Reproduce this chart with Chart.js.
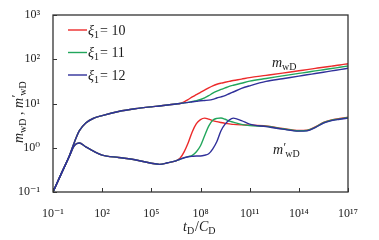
<html>
<head>
  <meta charset="utf-8" />
  <script src="https://cdn.jsdelivr.net/npm/chart.js@4.4.0/dist/chart.umd.min.js"></script>
  <style>
    html, body {
      margin: 0;
      padding: 0;
      background: #fff;
    }

    .chart-wrapper {
      width: 379px;
      height: 240px;
    }
  </style>
</head>

<body>
  <div class="chart-wrapper">
    <canvas id="mwdChart" width="379" height="240"></canvas>
  </div>
  <script>
    // x values, tD/CD
    let tdCd = [
      0.1, 0.316, 1, 2, 4, 10, 31.6, 100, 1e3, 1e4,
      1e5, 3.16e5, 1e6, 3.16e6, 5.62e6, 1e7, 1.78e7, 3.16e7, 5.62e7, 1e8,
      1.78e8, 3.16e8, 5.62e8, 1e9, 1.78e9, 3.16e9, 5.62e9, 1e10, 3.16e10, 1e11,
      1e12, 1e13, 1e14, 3.16e14, 1e15, 3.16e15, 1e16, 3.16e16, 1e17,
    ];

    // m_wD (upper curves)
    let mwdXi10 = [
      0.1, 0.257, 0.66, 1.32, 2.40, 3.63, 4.68, 5.33, 6.58, 7.59,
      8.41, 8.77, 9.23, 9.77, 10.0, 10.9, 12.3, 14.1, 15.8, 17.8,
      20.0, 22.6, 25.1, 27.2, 28.8, 30.2, 31.6, 33.0, 35.5, 38.4,
      43.1, 48.5, 55.0, 58.3, 62.1, 66.1, 70.0, 74.1, 79.1,
    ];
    let mwdXi11 = [
      0.1, 0.257, 0.66, 1.32, 2.40, 3.63, 4.68, 5.33, 6.58, 7.59,
      8.41, 8.77, 9.23, 9.77, 10.0, 10.35, 10.6, 11.1, 11.6, 12.3,
      13.4, 15.0, 17.1, 19.0, 20.8, 22.5, 24.3, 25.8, 28.7, 32.0,
      36.8, 42.0, 47.9, 50.9, 54.5, 58.0, 61.7, 66.1, 70.5,
    ];
    let mwdXi12 = [
      0.1, 0.257, 0.66, 1.32, 2.40, 3.63, 4.68, 5.33, 6.58, 7.59,
      8.41, 8.77, 9.23, 9.77, 10.0, 10.35, 10.6, 10.96, 11.2, 11.5,
      11.7, 11.9, 12.4, 13.3, 14.1, 15.1, 16.6, 18.2, 21.9, 25.1,
      31.6, 36.3, 41.5, 44.5, 47.5, 50.8, 54.5, 58.2, 62.4,
    ];

    // m'_wD (lower curves)
    let dmwdXi10 = [
      0.1, 0.257, 0.645, 1.12, 1.28, 1.05, 0.824, 0.682, 0.603, 0.537,
      0.447, 0.422, 0.457, 0.507, 0.577, 0.81, 1.30, 2.31, 3.51, 4.33,
      4.68, 4.45, 4.11, 3.89, 3.72, 3.56, 3.47, 3.37, 3.28, 3.24,
      3.09, 2.72, 2.45, 2.50, 2.95, 3.73, 4.27, 4.57, 4.90,
    ];
    let dmwdXi11 = [
      0.1, 0.257, 0.645, 1.12, 1.28, 1.05, 0.824, 0.682, 0.603, 0.537,
      0.447, 0.422, 0.457, 0.507, 0.55, 0.593, 0.631, 0.676, 0.813, 1.11,
      1.87, 3.08, 4.17, 4.61, 4.71, 4.40, 4.00, 3.80, 3.37, 3.16,
      3.05, 2.68, 2.42, 2.45, 2.90, 3.67, 4.19, 4.49, 4.79,
    ];
    let dmwdXi12 = [
      0.1, 0.257, 0.645, 1.12, 1.28, 1.05, 0.824, 0.682, 0.603, 0.537,
      0.447, 0.422, 0.457, 0.507, 0.55, 0.593, 0.624, 0.641, 0.652, 0.652,
      0.676, 0.731, 0.948, 1.39, 2.43, 3.42, 4.22, 4.68, 4.11, 3.42,
      3.00, 2.63, 2.37, 2.41, 2.85, 3.61, 4.11, 4.40, 4.68,
    ];

    let xiLabels = ["10", "11", "12"];
    let xTickValues = [1e-1, 1e2, 1e5, 1e8, 1e11, 1e14, 1e17];
    let yTickValues = [1e-1, 1e0, 1e1, 1e2, 1e3];

    // colors and fonts
    let seriesColors = ["#ec2a2a", "#22a65c", "#30309a"];
    let frameColor = "#333333";
    let serif = '"Liberation Serif", "DejaVu Serif", serif';

    let superDigits = {
      "-": "\u207B", "0": "\u2070", "1": "\u00B9", "2": "\u00B2", "3": "\u00B3",
      "4": "\u2074", "5": "\u2075", "6": "\u2076", "7": "\u2077", "8": "\u2078", "9": "\u2079",
    };

    function powLabel(value) {
      let e = String(Math.round(Math.log10(value)));
      return "10" + e.split("").map((c) => superDigits[c]).join("");
    }

    function toPoints(ys) {
      return tdCd.map((x, i) => ({ x: x, y: ys[i] }));
    }

    // draws a row of text pieces with their own font and offset
    function drawParts(ctx, x, y, parts) {
      parts.forEach((p) => {
        ctx.font = p.font;
        ctx.fillText(p.text, x, y + (p.dy || 0));
        x += ctx.measureText(p.text).width + (p.gap || 0);
      });
    }

    let fItalic = "italic 14px " + serif;
    let fNormal = "14px " + serif;
    let fSub = "10px " + serif;

    // frame, inward ticks, legend and labels
    let decorPlugin = {
      id: "decor",
      afterDatasetsDraw(chart) {
        let ctx = chart.ctx;
        let area = chart.chartArea;
        let xs = chart.scales.x;
        let ys = chart.scales.y;
        ctx.save();

        ctx.strokeStyle = frameColor;
        ctx.lineWidth = 1.3;
        ctx.strokeRect(area.left, area.top, area.right - area.left, area.bottom - area.top);

        ctx.lineWidth = 1;
        ctx.beginPath();
        xTickValues.forEach((v) => {
          let px = Math.round(xs.getPixelForValue(v)) + 0.5;
          ctx.moveTo(px, area.bottom);
          ctx.lineTo(px, area.bottom - 4);
        });
        yTickValues.forEach((v) => {
          let py = Math.round(ys.getPixelForValue(v)) + 0.5;
          ctx.moveTo(area.left, py);
          ctx.lineTo(area.left + 4, py);
        });
        ctx.stroke();

        // legend
        ctx.fillStyle = "#1a1a1a";
        ctx.textBaseline = "alphabetic";
        ctx.textAlign = "left";
        xiLabels.forEach((lab, i) => {
          let ly = 30 + i * 22.5;
          ctx.strokeStyle = seriesColors[i];
          ctx.lineWidth = 1.4;
          ctx.beginPath();
          ctx.moveTo(68, ly);
          ctx.lineTo(87, ly);
          ctx.stroke();
          drawParts(ctx, 88, ly + 4.5, [
            { text: "\u03BE", font: fItalic },
            { text: "1", font: fSub, dy: 3, gap: 1 },
            { text: "= " + lab, font: fNormal },
          ]);
        });

        // curve labels
        drawParts(ctx, 272, 67, [
          { text: "m", font: fItalic },
          { text: "wD", font: fSub, dy: 3 },
        ]);
        drawParts(ctx, 273, 154, [
          { text: "m", font: fItalic, gap: 0.5 },
          { text: "\u2032", font: "12px " + serif, dy: -3, gap: -1 },
          { text: "wD", font: fSub, dy: 3 },
        ]);

        // x title
        drawParts(ctx, 183, 231, [
          { text: "t", font: fItalic },
          { text: "D", font: fSub, dy: 3, gap: 1 },
          { text: "/", font: fNormal },
          { text: "C", font: fItalic },
          { text: "D", font: fSub, dy: 3 },
        ]);

        // y title
        ctx.translate(23, 143);
        ctx.rotate(-Math.PI / 2);
        drawParts(ctx, 0, 0, [
          { text: "m", font: fItalic },
          { text: "wD", font: fSub, dy: 3 },
          { text: " , ", font: fNormal },
          { text: "m", font: fItalic, gap: 0.5 },
          { text: "\u2032", font: "12px " + serif, dy: -3, gap: -1 },
          { text: "wD", font: fSub, dy: 3 },
        ]);

        ctx.restore();
      },
    };

    function makeSet(label, ys, colorIndex) {
      return {
        label: label,
        data: toPoints(ys),
        showLine: true,
        borderColor: seriesColors[colorIndex],
        borderWidth: 1.4,
        pointRadius: 0,
        cubicInterpolationMode: "monotone",
        fill: false,
        order: 2 - colorIndex,
      };
    }

    let datasets = [
      makeSet("mwD xi=10", mwdXi10, 0),
      makeSet("mwD xi=11", mwdXi11, 1),
      makeSet("mwD xi=12", mwdXi12, 2),
      makeSet("m'wD xi=10", dmwdXi10, 0),
      makeSet("m'wD xi=11", dmwdXi11, 1),
      makeSet("m'wD xi=12", dmwdXi12, 2),
    ];

    let tickFont = { family: serif, size: 12 };

    new Chart(document.getElementById("mwdChart").getContext("2d"), {
      type: "scatter",
      data: { datasets: datasets },
      options: {
        responsive: false,
        animation: false,
        layout: { padding: { top: 15, right: 31, left: 0, bottom: 0 } },
        plugins: {
          legend: { display: false },
          tooltip: { enabled: false },
        },
        scales: {
          x: {
            type: "logarithmic",
            position: "bottom",
            min: 0.1,
            max: 1e17,
            grid: { display: false },
            border: { display: false },
            ticks: {
              font: tickFont,
              color: "#222",
              padding: 7,
              maxRotation: 0,
              autoSkip: false,
              callback: (v) => powLabel(v),
            },
            afterBuildTicks: (s) => {
              s.ticks = xTickValues.map((v) => ({ value: v }));
            },
            afterFit: (s) => {
              s.height = 48;
            },
          },
          y: {
            type: "logarithmic",
            position: "left",
            min: 0.1,
            max: 1000,
            grid: { display: false },
            border: { display: false },
            ticks: {
              font: tickFont,
              color: "#222",
              padding: 5,
              autoSkip: false,
              callback: (v) => powLabel(v),
            },
            afterBuildTicks: (s) => {
              s.ticks = yTickValues.map((v) => ({ value: v }));
            },
            afterFit: (s) => {
              s.width = 53;
            },
          },
        },
      },
      plugins: [decorPlugin],
    });
  </script>
</body>
</html>
